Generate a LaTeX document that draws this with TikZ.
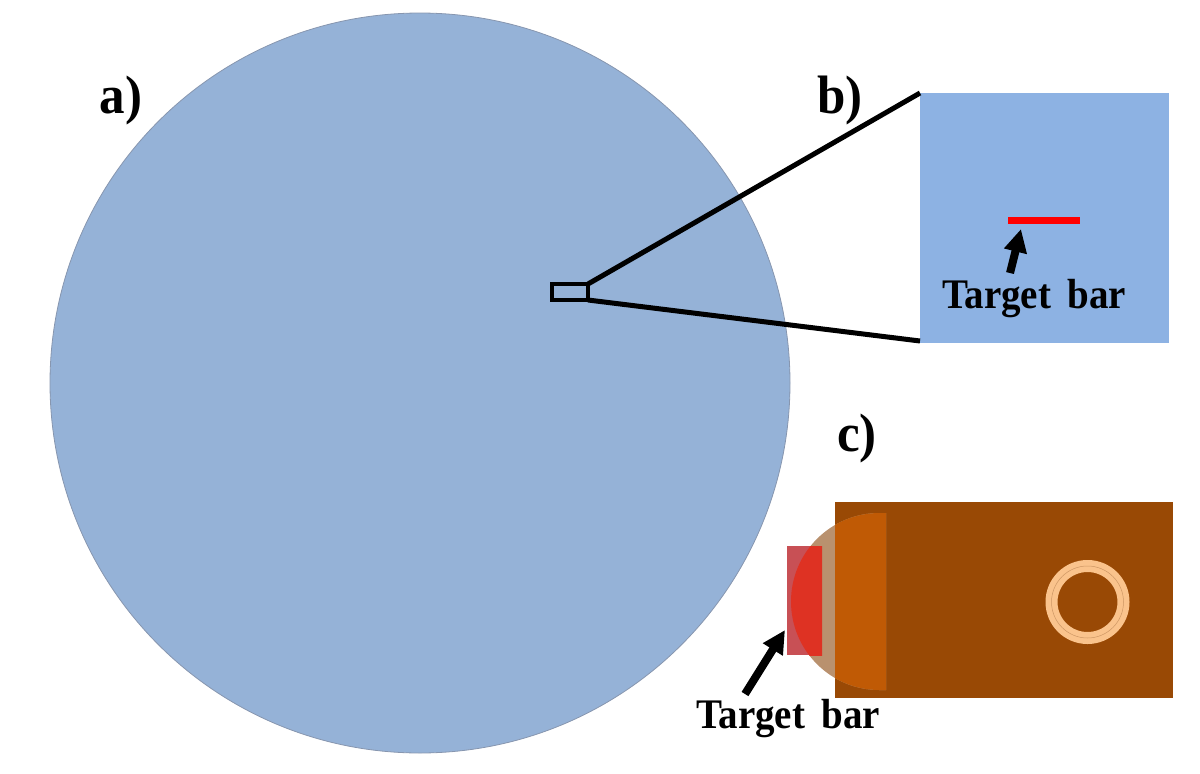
\documentclass[tikz,border=0pt]{standalone}
\usepackage{fontspec}
\setmainfont{Liberation Serif}
\usetikzlibrary{arrows.meta}
\definecolor{wafer}{RGB}{149,178,215}
\definecolor{waferedge}{RGB}{135,150,175}
\definecolor{panelblue}{RGB}{141,178,227}
\definecolor{brownbody}{RGB}{153,73,5}
\definecolor{tanlens}{RGB}{185,145,110}
\definecolor{orangelens}{RGB}{192,90,5}
\definecolor{redpale}{RGB}{200,80,85}
\definecolor{redstrong}{RGB}{222,50,35}
\definecolor{ringcol}{RGB}{250,195,140}
\definecolor{ringline}{RGB}{205,150,100}
\tikzset{
  px/.style={x=1pt,y=-1pt},
  boxnode/.style={draw=none,inner sep=0pt,outer sep=0pt,anchor=north west},
  panellabel/.style={font=\fontsize{51}{55}\selectfont\bfseries,inner sep=0pt,yscale=1.06},
  barlabel/.style={font=\fontsize{39}{42}\selectfont\bfseries,inner sep=0pt,yscale=1.08},
  zoomline/.style={draw=black,line width=5pt},
  pointer/.style={draw=black,line width=8pt,-{Triangle[length=23pt,width=22pt]}}
}
\begin{document}
\begin{tikzpicture}[px]
\useasboundingbox (0,0) rectangle (1200,774);
% a) wafer
\node[circle,fill=wafer,draw=waferedge,line width=0.8pt,minimum size=740pt,inner sep=0pt,outer sep=0pt] (wafer) at (420,383) {};
\node[panellabel] (la) at (121,100) {a)};
% b) panel
\node[boxnode,fill=panelblue,minimum width=249pt,minimum height=250pt] (panelb) at (920,93) {};
\node[boxnode,draw=black,line width=4.5pt,minimum width=36pt,minimum height=16pt] (zoombox) at (552,284) {};
\coordinate (zt) at (920,93);
\coordinate (zb) at (920,341);
\draw[zoomline] (zoombox.north east) -- (zt);
\draw[zoomline] (zoombox.south east) -- (zb);
\node[boxnode,fill=red,minimum width=72pt,minimum height=7pt] (barb) at (1008,217) {};
\coordinate (ab) at (1010,273);
\coordinate (abt) at (1021,229);
\draw[pointer] (ab) -- (abt);
\node[barlabel] (tb) at (1034,299) {Target\, bar};
\node[panellabel] (lb) at (840,100) {b)};
% c) panel
\node[panellabel] (lc) at (857,438) {c)};
\node[boxnode,fill=brownbody,minimum width=338pt,minimum height=196pt] (panelc) at (835,502) {};
\coordinate (lensT) at (886,513);
\coordinate (lensB) at (886,690);
\fill[tanlens] (lensT) -- (879.5,513) arc[start angle=270,end angle=90,radius=88.5] -- (lensB) -- cycle;
\begin{scope}
  \clip (835,502) rectangle (886,698);
  \fill[orangelens] (lensT) -- (879.5,513) arc[start angle=270,end angle=90,radius=88.5] -- (lensB) -- cycle;
\end{scope}
\node[boxnode,fill=redpale,minimum width=35pt,minimum height=109pt] (barc) at (787,546) {};
\begin{scope}
  \clip (787,546) rectangle (822,655);
  \fill[redstrong] (879.5,513) arc[start angle=270,end angle=90,radius=88.5] -- cycle;
\end{scope}
\node[circle,draw=ringcol,line width=12pt,minimum size=72pt,inner sep=0pt,outer sep=0pt] (ring) at (1087.5,602) {};
\node[circle,draw=ringline,line width=0.5pt,minimum size=72pt,inner sep=0pt,outer sep=0pt] (ringmid) at (1087.5,602) {};
\coordinate (ac) at (745,694);
\coordinate (act) at (785,630);
\draw[pointer] (ac) -- (act);
\node[barlabel] (tc) at (788,719) {Target\, bar};
\end{tikzpicture}
\end{document}
